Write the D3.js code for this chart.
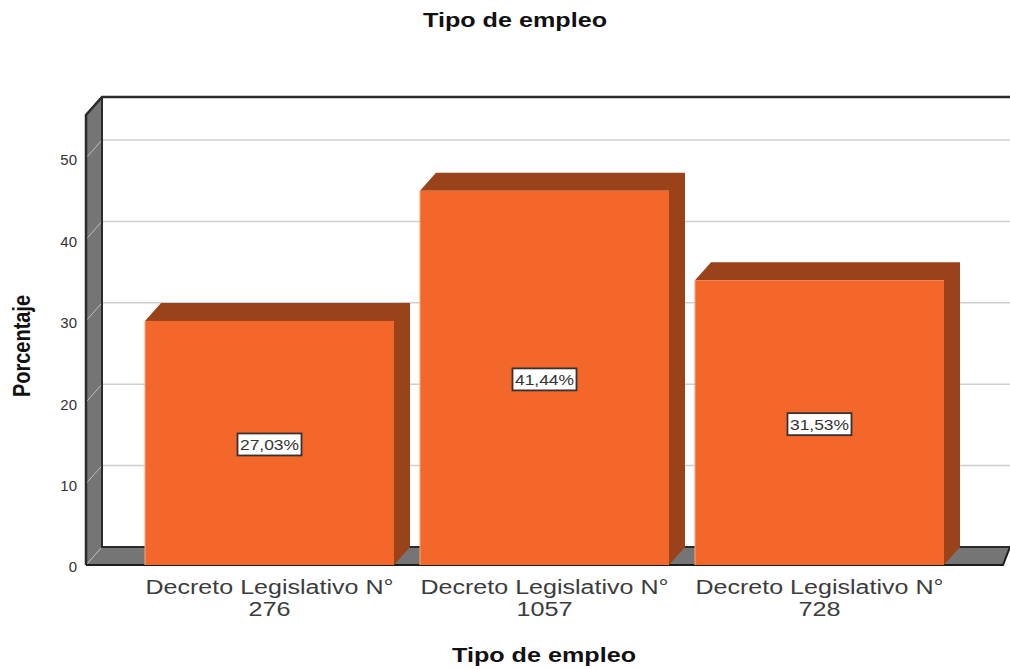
<!DOCTYPE html>
<html>
<head>
<meta charset="utf-8">
<script src="https://cdn.jsdelivr.net/npm/d3@7"></script>
<style>
  html, body { margin: 0; padding: 0; background: #fff; }
  text { font-family: "Liberation Sans", Arial, sans-serif; }
</style>
</head>
<body>
<div id="chart"></div>
<script>
// values
const categories = ["Decreto Legislativo N° 276", "Decreto Legislativo N° 1057", "Decreto Legislativo N° 728"];
const categoryFirstLines = ["Decreto Legislativo N°", "Decreto Legislativo N°", "Decreto Legislativo N°"];
const categorySecondLines = ["276", "1057", "728"];
const percentages = [27.03, 41.44, 31.53];
const percentLabels = ["27,03%", "41,44%", "31,53%"];
const yTicks = [0, 10, 20, 30, 40, 50];

const width = 1010, height = 669;
const depthX = 16, depthY = 18;

const svg = d3.select("#chart").append("svg")
    .attr("width", width)
    .attr("height", height)
    .style("display", "block");

// front plane scale, the back wall is the same one shifted by the depth
const y = d3.scaleLinear().domain([0, 50]).range([565, 158]);
const yBack = v => y(v) - depthY;
// SPSS draws the 3D bars taller than the axis, so they get their own scale
const yBar = d3.scaleLinear().domain([0, 50]).range([565, 113.5]);
const x = d3.scaleBand().domain(categories).range([132, 957]).paddingInner(0.0945).paddingOuter(0.0473);

const plotLeft = 86, plotRight = 1003;
const plotTop = 115;

// side wall
svg.append("path")
    .attr("d", `M${plotLeft},${plotTop}L${plotLeft + depthX},${plotTop - depthY}L${plotLeft + depthX},${y(0) - depthY}L${plotLeft},${y(0)}Z`)
    .attr("fill", "#757575");

// floor
svg.append("path")
    .attr("d", `M${plotLeft},${y(0)}L${plotLeft + depthX},${y(0) - depthY}L${plotRight + 7},${y(0) - depthY}L${plotRight},${y(0)}Z`)
    .attr("fill", "#757575");

// gridlines on back wall and across side wall
yTicks.filter(d => d > 0).forEach(d => {
    svg.append("line")
        .attr("x1", plotLeft + depthX).attr("x2", width)
        .attr("y1", yBack(d)).attr("y2", yBack(d))
        .attr("stroke", "#cfcfcf").attr("stroke-width", 1.5);
});
yTicks.forEach(d => {
    svg.append("line")
        .attr("x1", plotLeft).attr("x2", plotLeft + depthX)
        .attr("y1", y(d)).attr("y2", yBack(d))
        .attr("stroke", "#bdbdbd").attr("stroke-width", 1);
});

// outlines
svg.append("path")
    .attr("d", `M${plotLeft},${y(0)}L${plotLeft},${plotTop}L${plotLeft + depthX},${plotTop - depthY}L${width},${plotTop - depthY}`)
    .attr("fill", "none").attr("stroke", "#2b2b2b").attr("stroke-width", 2.5);
svg.append("path")
    .attr("d", `M${plotLeft + depthX},${plotTop - depthY}L${plotLeft + depthX},${y(0) - depthY}L${width},${y(0) - depthY}`)
    .attr("fill", "none").attr("stroke", "#2b2b2b").attr("stroke-width", 2);
svg.append("path")
    .attr("d", `M${plotLeft},${y(0)}L${plotRight},${y(0)}L${plotRight + 7},${y(0) - depthY}`)
    .attr("fill", "none").attr("stroke", "#1c1c1c").attr("stroke-width", 2);

// bars
const bars = svg.append("g").selectAll("g")
    .data(percentages)
    .join("g");

bars.append("path") // top and side as one shape, no seam at the corner
    .attr("d", (d, i) => {
        const x0 = x(categories[i]), x1 = x0 + x.bandwidth(), yt = yBar(d);
        return `M${x0},${yt}L${x0 + depthX},${yt - depthY}L${x1 + depthX},${yt - depthY}L${x1 + depthX},${y(0) - depthY}L${x1},${y(0)}L${x1},${yt}Z`;
    })
    .attr("fill", "#9a431b");

bars.append("rect") // front
    .attr("x", (d, i) => x(categories[i]))
    .attr("y", d => yBar(d))
    .attr("width", x.bandwidth())
    .attr("height", d => y(0) - yBar(d))
    .attr("fill", "#f4672a");

bars.append("line") // light edge on the left of the front
    .attr("x1", (d, i) => x(categories[i]))
    .attr("x2", (d, i) => x(categories[i]))
    .attr("y1", d => yBar(d))
    .attr("y2", y(0))
    .attr("stroke", "#f9a583").attr("stroke-width", 1);

// value labels in the middle of the bars
const labels = svg.append("g").selectAll("g")
    .data(percentages)
    .join("g")
    .attr("transform", (d, i) => `translate(${x(categories[i]) + x.bandwidth() / 2},${(yBar(d) + y(0)) / 2 + 1.5})`);

labels.append("rect")
    .attr("x", -32).attr("y", -11)
    .attr("width", 64).attr("height", 22)
    .attr("fill", "#fff").attr("stroke", "#333").attr("stroke-width", 1.8);

labels.append("text")
    .attr("text-anchor", "middle")
    .attr("y", 5.5)
    .attr("font-size", 15)
    .attr("fill", "#333")
    .attr("textLength", 59).attr("lengthAdjust", "spacingAndGlyphs")
    .text((d, i) => percentLabels[i]);

// y axis labels
const yAxis = svg.append("g")
    .attr("transform", `translate(${plotLeft},2)`)
    .call(d3.axisLeft(y).tickValues(yTicks).tickSize(0).tickPadding(9).tickFormat(d3.format("d")));
yAxis.select(".domain").remove();
yAxis.selectAll("text")
    .attr("font-size", 15)
    .attr("fill", "#333")
    .style("font-family", '"Liberation Sans", Arial, sans-serif');

// category labels, two separate lines stretched like the reference
const firstLines = svg.append("g").selectAll("text")
    .data(categories)
    .join("text")
    .attr("x", d => x(d) + x.bandwidth() / 2)
    .attr("y", 594)
    .attr("text-anchor", "middle")
    .attr("font-size", 20)
    .attr("fill", "#3c3c3c")
    .attr("textLength", 248).attr("lengthAdjust", "spacingAndGlyphs")
    .text((d, i) => categoryFirstLines[i]);

const secondLines = svg.append("g").selectAll("text")
    .data(categories)
    .join("text")
    .attr("x", d => x(d) + x.bandwidth() / 2)
    .attr("y", 616)
    .attr("text-anchor", "middle")
    .attr("font-size", 20)
    .attr("fill", "#3c3c3c")
    .attr("textLength", (d, i) => categorySecondLines[i].length * 14)
    .attr("lengthAdjust", "spacingAndGlyphs")
    .text((d, i) => categorySecondLines[i]);

// titles
svg.append("text")
    .attr("x", 515).attr("y", 27)
    .attr("text-anchor", "middle")
    .attr("font-size", 21).attr("font-weight", "bold").attr("fill", "#111")
    .attr("textLength", 184).attr("lengthAdjust", "spacingAndGlyphs")
    .text("Tipo de empleo");

svg.append("text")
    .attr("x", 544).attr("y", 662)
    .attr("text-anchor", "middle")
    .attr("font-size", 21).attr("font-weight", "bold").attr("fill", "#111")
    .attr("textLength", 184).attr("lengthAdjust", "spacingAndGlyphs")
    .text("Tipo de empleo");

svg.append("text")
    .attr("transform", "translate(30,346) rotate(-90)")
    .attr("text-anchor", "middle")
    .attr("font-size", 24).attr("font-weight", "bold").attr("fill", "#111")
    .attr("textLength", 102).attr("lengthAdjust", "spacingAndGlyphs")
    .text("Porcentaje");
</script>
</body>
</html>
